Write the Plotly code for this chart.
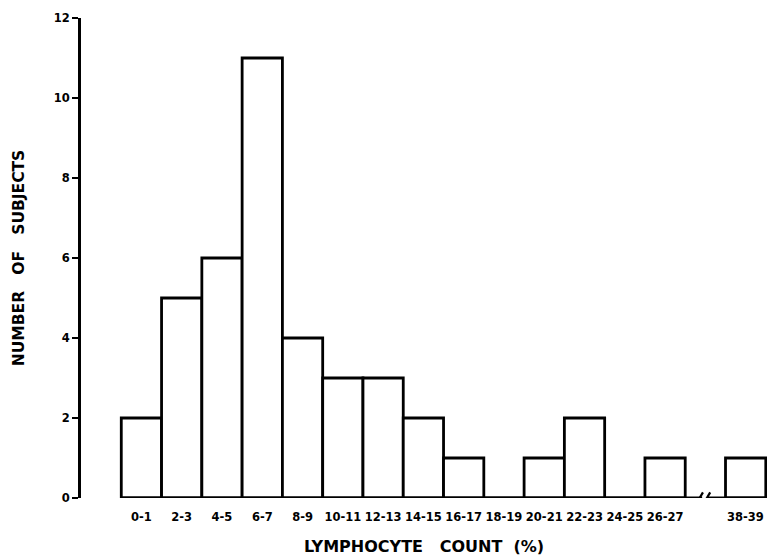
import plotly.graph_objects as go

categories = ["0-1", "2-3", "4-5", "6-7", "8-9", "10-11", "12-13", "14-15",
              "16-17", "18-19", "20-21", "22-23", "24-25", "26-27", "38-39"]
counts = [2, 5, 6, 11, 4, 3, 3, 2, 1, 0, 1, 2, 0, 1, 1]
y_ticks = [0, 2, 4, 6, 8, 10, 12]

# positions: one empty slot before the last (broken-axis) category
xpos = list(range(len(categories) - 1)) + [len(categories)]
break_x = (xpos[-2] + xpos[-1]) / 2

FONT = "DejaVu Sans"
LW = 2.8
NB = "\u00a0"
TICKFONT = dict(family=FONT, size=11.5, weight="bold", color="black")

fig = go.Figure()
fig.add_trace(go.Bar(
    x=xpos, y=counts, width=1.0,
    marker=dict(color="white", line=dict(color="black", width=LW)),
    showlegend=False,
))

shapes = [
    dict(type="line", xref="x", yref="y", x0=-0.5, x1=break_x - 0.08, y0=0, y1=0,
         line=dict(color="black", width=LW)),
    dict(type="line", xref="x", yref="y", x0=break_x + 0.05, x1=xpos[-1] + 0.5, y0=0, y1=0,
         line=dict(color="black", width=LW)),
    dict(type="line", xref="x", yref="y", x0=break_x - 0.22, x1=break_x - 0.06, y0=-0.13, y1=0.14,
         line=dict(color="black", width=2.2)),
    dict(type="line", xref="x", yref="y", x0=break_x - 0.04, x1=break_x + 0.12, y0=-0.13, y1=0.14,
         line=dict(color="black", width=2.2)),
]

# last category label sits at the right edge, drawn as an annotation so it is not clipped
ticktext = categories[:-1] + [""]
annotations = [dict(
    x=1, y=0, xref="paper", yref="paper", text=categories[-1],
    showarrow=False, xanchor="right", yanchor="middle", yshift=-19, xshift=-1,
    font=TICKFONT,
)]

fig.update_layout(
    width=767, height=559,
    margin=dict(l=81, r=0, t=18, b=61),
    paper_bgcolor="white", plot_bgcolor="white",
    shapes=shapes, annotations=annotations,
    font=dict(family=FONT, color="black"),
    xaxis=dict(
        range=[-1.5, 15.53], showgrid=False, zeroline=False, showline=False,
        tickvals=xpos, ticktext=ticktext,
        ticks="outside", ticklen=8, tickcolor="rgba(0,0,0,0)",
        tickfont=TICKFONT,
        title=dict(text="LYMPHOCYTE" + NB * 3 + "COUNT" + NB * 2 + "(%)", standoff=18,
                   font=dict(family=FONT, size=16, weight="bold")),
    ),
    yaxis=dict(
        range=[0, 12], showgrid=False, zeroline=False,
        showline=True, linecolor="black", linewidth=LW,
        tickvals=y_ticks, ticks="outside", ticklen=6, tickwidth=1.5, tickcolor="black",
        tickfont=TICKFONT,
        title=dict(text="NUMBER" + NB * 3 + "OF" + NB * 3 + "SUBJECTS", standoff=26,
                   font=dict(family=FONT, size=15.5, weight="bold")),
    ),
)

fig.write_html(
    "out.html",
    config={"displayModeBar": False},
    post_script="document.body.style.margin='0';document.body.style.overflow='hidden';",
)
